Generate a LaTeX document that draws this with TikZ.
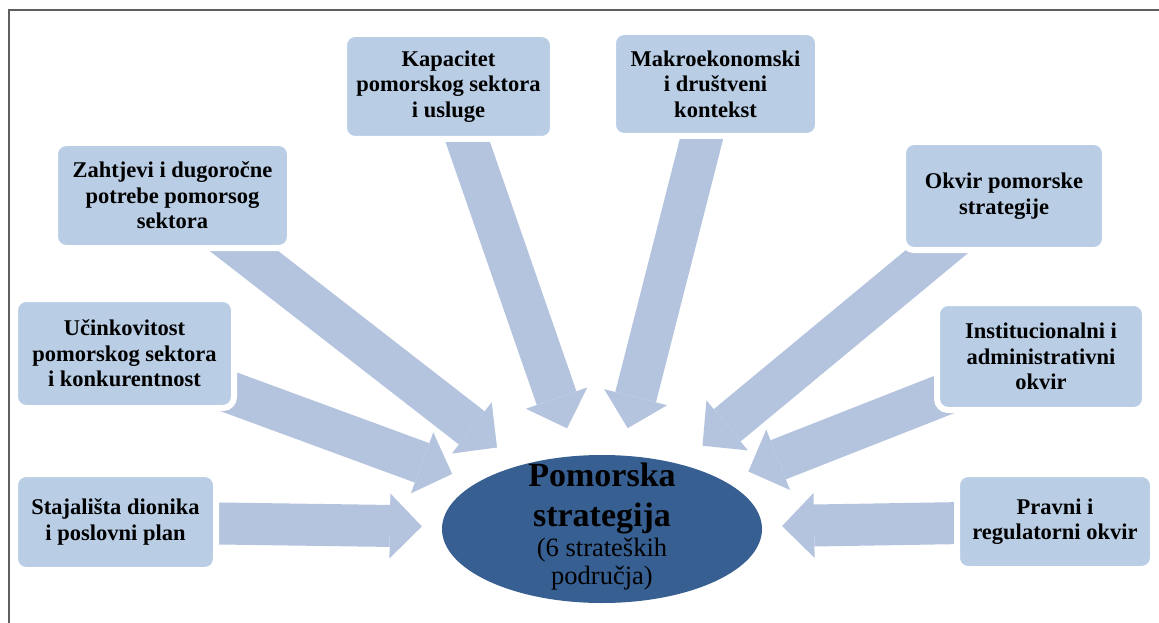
\documentclass[tikz,border=0pt]{standalone}
\usepackage{fontspec}
\setmainfont{Liberation Serif}
\usetikzlibrary{arrows.meta,shapes.geometric}
\pgfdeclarelayer{bg}
\pgfsetlayers{bg,main}
\definecolor{boxblue}{RGB}{185,205,229}
\definecolor{arrowblue}{RGB}{180,195,222}
\definecolor{ellblue}{RGB}{55,95,145}
\definecolor{framegray}{RGB}{95,95,95}
\tikzset{
  box/.style={rectangle, rounded corners=11pt, fill=boxblue, draw=white, line width=6pt,
    align=center, inner sep=0pt, font=\fontsize{22.5}{25.5}\selectfont\bfseries},
  bigarrow/.style={draw=arrowblue, line width=42pt,
    -{Triangle[width=65pt,length=32pt,line width=0pt]}},
}
\begin{document}
\begin{tikzpicture}[x=1pt,y=-1pt]
    \useasboundingbox (0,0) rectangle (1159,623);
    \draw[framegray,line width=1.5pt](8,10)--(1159,10);
    \draw[framegray,line width=1.5pt](9,10)--(9,623);
    % centre
    \node[ellipse,fill=ellblue,minimum width=320pt,minimum height=148pt,inner sep=0pt] (ell) at (602,529) {};
    \node[font=\fontsize{34}{40}\selectfont\bfseries,align=center] (elltitle) at (602,498) {Pomorska\\strategija};
    \node[font=\fontsize{26.5}{28}\selectfont,align=center] (ellsub) at (602,564) {(6 strateških\\područja)};
    % boxes
    \node[box,minimum width=209pt,minimum height=105pt] (kap) at (448.5,86.5) {Kapacitet\\pomorskog sektora\\i usluge};
    \node[box,minimum width=205pt,minimum height=104pt] (mak) at (715.5,84) {Makroekonomski\\i društveni\\kontekst};
    \node[box,minimum width=235pt,minimum height=105pt] (zah) at (172.5,195.5) {Zahtjevi i dugoročne\\potrebe pomorsog\\sektora};
    \node[box,minimum width=202pt,minimum height=108pt] (okv) at (1004,196) {Okvir pomorske\\strategije};
    \node[box,minimum width=219pt,minimum height=109pt] (uci) at (124.5,353.5) {Učinkovitost\\pomorskog sektora\\i konkurentnost};
    \node[box,minimum width=208pt,minimum height=107pt] (ins) at (1041,356.5) {Institucionalni i\\administrativni\\okvir};
    \node[box,minimum width=201pt,minimum height=96pt] (sta) at (115.5,522) {Stajališta dionika\\i poslovni plan};
    \node[box,minimum width=196pt,minimum height=95pt] (pra) at (1055,521.5) {Pravni i\\regulatorni okvir};
    % arrows
    \begin{pgfonlayer}{bg}
    \foreach \b/\s in {kap/29pt,mak/28pt,zah/29pt,okv/29pt,uci/26pt,ins/26pt,sta/20pt,pra/20pt}
        \draw[bigarrow,shorten >=\s](\b.center)--(ell);
    \end{pgfonlayer}
\end{tikzpicture}
\end{document}
